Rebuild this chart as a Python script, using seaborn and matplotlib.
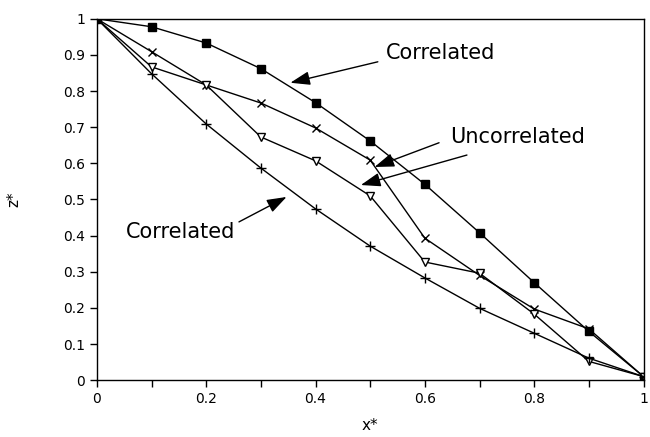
import matplotlib
matplotlib.use("Agg")
import matplotlib.pyplot as plt
import seaborn as sns
import pandas as pd

x_vals = [0, 0.1, 0.2, 0.3, 0.4, 0.5, 0.6, 0.7, 0.8, 0.9, 1.0]
corr_upper = [1.0, 0.978, 0.933, 0.862, 0.768, 0.662, 0.542, 0.408, 0.270, 0.135, 0.01]
uncorr_x = [1.0, 0.909, 0.817, 0.767, 0.698, 0.609, 0.393, 0.290, 0.197, 0.142, 0.01]
uncorr_tri = [1.0, 0.867, 0.817, 0.673, 0.607, 0.510, 0.327, 0.296, 0.183, 0.052, 0.01]
corr_lower = [1.0, 0.848, 0.709, 0.587, 0.474, 0.371, 0.283, 0.199, 0.130, 0.061, 0.01]

y_ticks = [0, 0.1, 0.2, 0.3, 0.4, 0.5, 0.6, 0.7, 0.8, 0.9, 1]
y_tick_labels = ["0", "0.1", "0.2", "0.3", "0.4", "0.5", "0.6", "0.7", "0.8", "0.9", "1"]
x_ticks = [0, 0.2, 0.4, 0.6, 0.8, 1]
x_tick_labels = ["0", "0.2", "0.4", "0.6", "0.8", "1"]

sns.set_theme(style="ticks")
plt.rcParams["font.family"] = ["DejaVu Sans"]
plt.rcParams["text.color"] = "black"
plt.rcParams["axes.labelcolor"] = "black"

fig = plt.figure(figsize=(6.5, 4.37), dpi=100)
ax = fig.add_axes([0.149, 0.130, 0.841, 0.827])

series = [
    (corr_upper, "s", "black", 6),
    (uncorr_x, "x", "black", 6),
    (uncorr_tri, "v", "white", 6),
    (corr_lower, "+", "black", 7),
]
for vals, mk, fc, ms in series:
    df = pd.DataFrame({"x": x_vals, "z": vals})
    sns.lineplot(data=df, x="x", y="z", ax=ax, color="black", lw=1.0,
                 marker=mk, markersize=ms, markerfacecolor=fc,
                 markeredgecolor="black", markeredgewidth=1.0)

ax.set_xlim(0, 1)
ax.set_ylim(0, 1)
ax.set_yticks(y_ticks)
ax.set_yticklabels(y_tick_labels)
ax.set_xticks(x_ticks)
ax.set_xticklabels(x_tick_labels)
ax.set_xticks([0.1, 0.3, 0.5, 0.7, 0.9], minor=True)
ax.tick_params(axis="both", which="both", direction="out", labelsize=10,
               color="black", labelcolor="black", width=1)
ax.tick_params(axis="both", which="major", length=5)
ax.tick_params(axis="x", which="minor", length=5)
for sp in ax.spines.values():
    sp.set_visible(True)
    sp.set_color("black")
    sp.set_linewidth(1.0)

ax.set_xlabel("x*", fontsize=11, color="black", labelpad=9)
ax.set_ylabel("z*", fontsize=11, color="black", labelpad=30)

arrowprops = dict(arrowstyle="-|>,head_length=1.0,head_width=0.35",
                  color="black", lw=1.0, shrinkA=0, shrinkB=0)

ax.text(0.528, 0.906, "Correlated", fontsize=15, va="center", ha="left", color="black")
ax.annotate("", xy=(0.354, 0.823), xytext=(0.514, 0.881), arrowprops=arrowprops)

ax.text(0.646, 0.673, "Uncorrelated", fontsize=15, va="center", ha="left", color="black")
ax.annotate("", xy=(0.508, 0.590), xytext=(0.626, 0.657), arrowprops=arrowprops)
ax.annotate("", xy=(0.483, 0.540), xytext=(0.677, 0.623), arrowprops=arrowprops)

ax.text(0.053, 0.41, "Correlated", fontsize=15, va="center", ha="left", color="black")
ax.annotate("", xy=(0.347, 0.507), xytext=(0.260, 0.438), arrowprops=arrowprops)

fig.savefig("out.png", dpi=100)
